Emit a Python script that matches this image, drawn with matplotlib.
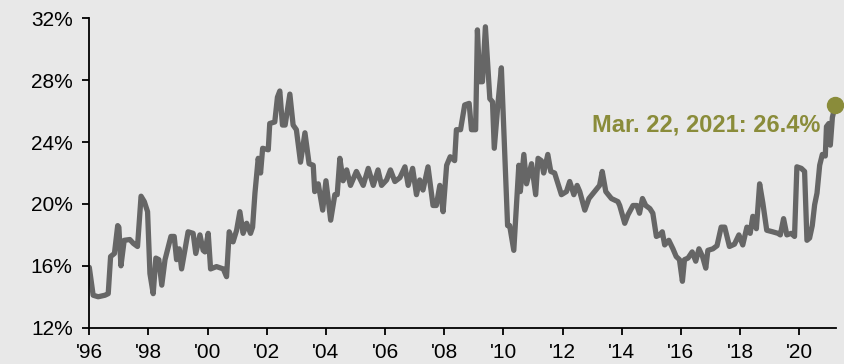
import matplotlib
matplotlib.use("Agg")
import matplotlib.pyplot as plt
from matplotlib.ticker import FixedLocator, FuncFormatter

plt.rcParams['font.family'] = ['Liberation Sans', 'DejaVu Sans']

# Share of value (%), sampled by decimal year
years = [
    1996.00, 1996.13, 1996.30, 1996.53, 1996.64, 1996.72, 1996.85, 1996.96, 1997.00, 1997.07,
    1997.18, 1997.37, 1997.49, 1997.63, 1997.75, 1997.86, 1997.97, 1998.05, 1998.16, 1998.25,
    1998.35, 1998.45, 1998.56, 1998.76, 1998.87, 1998.95, 1999.04, 1999.12, 1999.34, 1999.51,
    1999.60, 1999.74, 1999.85, 1999.91, 2000.02, 2000.10, 2000.30, 2000.53, 2000.64, 2000.73,
    2000.86, 2000.98, 2001.09, 2001.20, 2001.32, 2001.45, 2001.52, 2001.60, 2001.71, 2001.79,
    2001.86, 2002.05, 2002.10, 2002.27, 2002.36, 2002.44, 2002.53, 2002.62, 2002.78, 2002.89,
    2003.00, 2003.14, 2003.29, 2003.43, 2003.57, 2003.62, 2003.74, 2003.89, 2004.00, 2004.16,
    2004.30, 2004.38, 2004.47, 2004.58, 2004.70, 2004.83, 2005.03, 2005.26, 2005.43, 2005.60,
    2005.76, 2005.88, 2006.05, 2006.18, 2006.33, 2006.50, 2006.67, 2006.78, 2006.93, 2007.06,
    2007.17, 2007.28, 2007.45, 2007.62, 2007.73, 2007.85, 2007.96, 2008.08, 2008.20, 2008.35,
    2008.41, 2008.55, 2008.69, 2008.84, 2008.92, 2009.06, 2009.12, 2009.20, 2009.29, 2009.39,
    2009.54, 2009.63, 2009.69, 2009.82, 2009.93, 2010.14, 2010.21, 2010.35, 2010.52, 2010.57,
    2010.69, 2010.78, 2010.95, 2011.09, 2011.17, 2011.28, 2011.36, 2011.50, 2011.60, 2011.73,
    2011.96, 2012.13, 2012.24, 2012.38, 2012.49, 2012.58, 2012.75, 2012.89, 2013.08, 2013.25,
    2013.34, 2013.46, 2013.65, 2013.87, 2013.93, 2014.10, 2014.21, 2014.38, 2014.51, 2014.60,
    2014.70, 2014.81, 2014.95, 2015.05, 2015.17, 2015.28, 2015.37, 2015.45, 2015.59, 2015.73,
    2015.84, 2015.95, 2016.05, 2016.12, 2016.24, 2016.38, 2016.50, 2016.61, 2016.73, 2016.84,
    2016.91, 2017.08, 2017.22, 2017.36, 2017.48, 2017.64, 2017.81, 2017.96, 2018.09, 2018.23,
    2018.34, 2018.43, 2018.55, 2018.66, 2018.77, 2018.90, 2019.10, 2019.28, 2019.36, 2019.47,
    2019.58, 2019.73, 2019.84, 2019.92, 2020.07, 2020.18, 2020.26, 2020.35, 2020.44, 2020.52,
    2020.60, 2020.69, 2020.78, 2020.88, 2020.92, 2021.00, 2021.05, 2021.12, 2021.22,
]
share = [
    15.9, 14.1, 14.0, 14.1, 14.2, 16.6, 16.8, 18.6, 18.5, 16.0,
    17.65, 17.7, 17.45, 17.25, 20.5, 20.15, 19.5, 15.5, 14.2, 16.5,
    16.4, 14.75, 16.4, 17.9, 17.9, 16.4, 17.1, 15.8, 18.2, 18.1,
    16.8, 18.0, 17.0, 16.9, 18.1, 15.8, 15.95, 15.8, 15.3, 18.2,
    17.55, 18.3, 19.5, 18.1, 18.75, 18.1, 18.5, 20.7, 22.95, 22.0,
    23.6, 23.5, 25.2, 25.3, 26.9, 27.3, 25.1, 25.1, 27.1, 25.1,
    24.8, 22.7, 24.6, 22.6, 22.5, 20.8, 21.3, 19.6, 21.5, 18.95,
    20.6, 20.6, 22.95, 21.5, 22.2, 21.2, 22.1, 21.2, 22.3, 21.2,
    22.2, 21.2, 21.55, 22.2, 21.45, 21.7, 22.4, 21.2, 22.3, 20.6,
    21.55, 20.9, 22.4, 19.9, 19.9, 21.2, 19.5, 22.5, 23.05, 22.8,
    24.8, 24.8, 26.4, 26.5, 24.8, 24.8, 31.25, 27.9, 27.9, 31.45,
    26.8, 26.6, 23.6, 26.6, 28.8, 18.6, 18.6, 17.0, 22.5, 20.8,
    23.2, 21.3, 22.6, 20.6, 22.95, 22.8, 22.0, 23.2, 22.1, 22.0,
    20.6, 20.8, 21.45, 20.6, 21.2, 20.8, 19.6, 20.35, 20.8, 21.2,
    22.1, 20.8, 20.35, 20.15, 19.9, 18.75, 19.3, 19.9, 19.9, 19.4,
    20.35, 19.9, 19.7, 19.4, 17.9, 18.0, 18.2, 17.35, 17.65, 17.1,
    16.6, 16.4, 15.0, 16.4, 16.5, 16.9, 16.3, 17.1, 16.6, 15.85,
    17.0, 17.1, 17.3, 18.5, 18.5, 17.25, 17.4, 18.0, 17.35, 18.5,
    18.1, 19.2, 18.4, 21.3, 20.05, 18.3, 18.2, 18.1, 18.0, 19.05,
    18.0, 18.1, 17.9, 22.4, 22.3, 22.1, 17.65, 17.8, 18.6, 19.95,
    20.7, 22.5, 23.2, 23.1, 25.0, 25.2, 23.8, 25.6, 26.4,
]

tick_years = list(range(1996, 2021, 2))
tick_labels = ["'" + str(y)[2:] for y in tick_years]
y_ticks = [12, 16, 20, 24, 28, 32]

last_label = "Mar. 22, 2021: 26.4%"

bg = '#e8e8e8'
line_color = '#666666'
accent = '#8a8c3a'

fig = plt.figure(figsize=(8.44, 3.64), dpi=100, facecolor=bg)
ax = fig.add_axes([0.1058, 0.0997, 0.885, 0.85])
ax.set_facecolor(bg)

ax.plot(years, share, color=line_color, lw=3.8, solid_joinstyle='round',
        solid_capstyle='round', zorder=2)
ax.plot([years[-1]], [share[-1]], 'o', color=accent, ms=11.5, clip_on=False, zorder=3)
ax.annotate(last_label, xy=(years[-1], share[-1]), xytext=(-15, -20),
            textcoords='offset pixels', ha='right', va='center',
            color=accent, fontsize=17, fontweight='bold')

ax.set_xlim(1996, 2021.25)
ax.set_ylim(12, 32)
ax.xaxis.set_major_locator(FixedLocator(tick_years))
ax.set_xticklabels(tick_labels)
ax.yaxis.set_major_locator(FixedLocator(y_ticks))
ax.yaxis.set_major_formatter(FuncFormatter(lambda v, p: f"{v:.0f}%"))

for side in ('top', 'right'):
    ax.spines[side].set_visible(False)
for side in ('left', 'bottom'):
    ax.spines[side].set_color('black')
    ax.spines[side].set_linewidth(1.3)

ax.tick_params(axis='both', direction='out', length=5, width=1.3, colors='black',
               labelsize=15)
ax.tick_params(axis='y', pad=7)
ax.tick_params(axis='x', pad=6)

fig.savefig('out.png', dpi=100, facecolor=bg)
